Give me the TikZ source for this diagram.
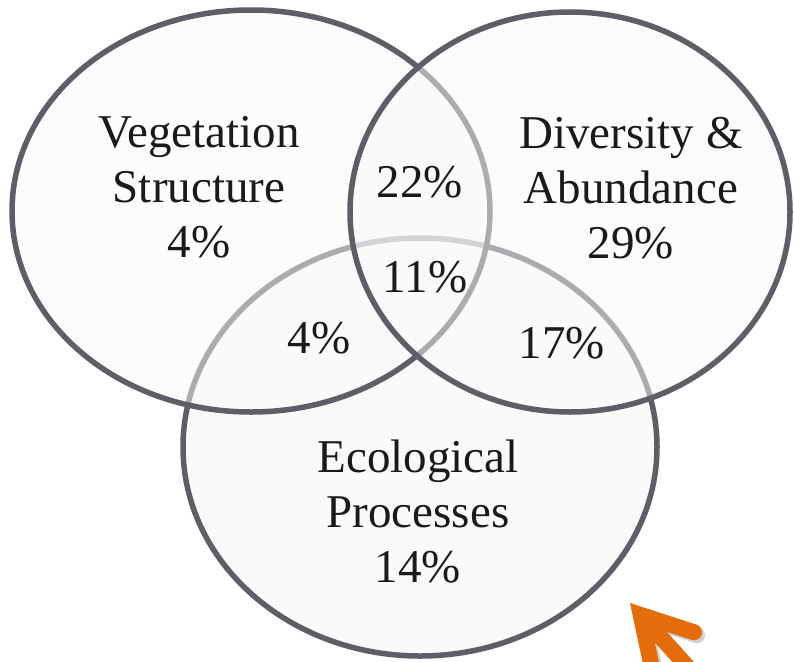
\documentclass[tikz,border=0pt]{standalone}
\usepackage{fontspec}
\setmainfont{Liberation Serif}
\usetikzlibrary{positioning}
\usetikzlibrary{shapes}
\definecolor{rimgray}{HTML}{5E5E66}
\definecolor{setbg}{HTML}{F9FAFA}
\definecolor{textfg}{HTML}{1A1A1A}
\definecolor{pointer}{HTML}{E46C0A}
\newcommand{\pointerpath}{(0,0) -- (60.6,35) arc[start angle=120, end angle=-60, radius=8]
  -- (45.9,8) -- (200,8) -- (200,-8) -- (45.9,-8)
  -- (68.6,-21.1) arc[start angle=60, end angle=-120, radius=8] -- cycle}

\begin{document}
\begin{tikzpicture}[x=1pt, y=-1pt, text=textfg,
    set/.style = {draw=rimgray, line width=5.5pt, ellipse, fill=setbg, inner sep=0pt},
    seethru/.style = {fill opacity=0.5},
    lbl/.style = {align=center, inner sep=0pt, anchor=north, font=\fontsize{47}{55}\selectfont},
    pct/.style = {inner sep=0pt, anchor=base, font=\fontsize{47}{55}\selectfont}]

\clip (0,0) rectangle (794,661);
\fill[white] (0,0) rectangle (794,661);

\node[set, minimum width=474pt, minimum height=418pt] (eco) at (420,447) {};
\node[set, seethru, minimum width=478pt, minimum height=402pt] (veg) at (251,211) {};
\node[set, seethru, minimum width=440pt, minimum height=400pt] (div) at (570,212) {};

\node[lbl] (vegl) at (199,116) {Vegetation\\Structure\\4\%};
\node[lbl] (divl) at (631,117) {Diversity \&\\Abundance\\29\%};
\node[lbl] (ecol) at (418,440) {Ecological\\Processes\\14\%};

\node[pct] (vd) at (420,197) {22\%};
\node[pct] (vde) at (425,292) {11\%};
\node[pct] (ve) at (319,353) {4\%};
\node[pct] (de) at (562,358) {17\%};

% orange pointer in the corner
\begin{scope}[shift={(633,606)}, rotate=-48]
\fill[black, opacity=0.18] \pointerpath;
\end{scope}
\begin{scope}[shift={(630,603)}, rotate=-48]
\fill[pointer] \pointerpath;
\end{scope}

\end{tikzpicture}
\end{document}
